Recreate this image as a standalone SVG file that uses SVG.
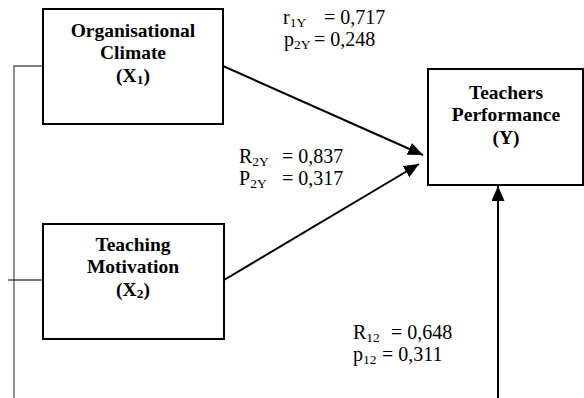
<svg xmlns="http://www.w3.org/2000/svg" width="584" height="398" viewBox="0 0 584 398">
<style>
.box{fill:#fff;stroke:#000;stroke-width:2}
.t{font-family:"Liberation Serif","Times New Roman",serif;font-weight:bold;font-size:19.5px;text-anchor:middle;fill:#000}
.l{font-family:"Liberation Serif","Times New Roman",serif;font-size:20px;fill:#000}
.s{font-size:13.5px}
.c{stroke:#000;stroke-width:2;fill:none}
.g{stroke:#555;stroke-width:1.3;fill:none}
</style>
<defs>
<marker id="ah" markerUnits="userSpaceOnUse" markerWidth="16" markerHeight="14" refX="15" refY="6.5" orient="auto">
<path d="M0,0 L15,6.5 L0,13 z" fill="#000"/>
</marker>
</defs>
<g id="connectors">
<path class="g" d="M43,66 H14 V398"/>
<path class="c" d="M8,280 H43" style="stroke-width:1.2"/>
<line class="c" x1="223" y1="66" x2="423" y2="155" marker-end="url(#ah)"/>
<line class="c" x1="224" y1="280" x2="419" y2="164" marker-end="url(#ah)"/>
<line class="c" x1="498" y1="398" x2="498" y2="186" marker-end="url(#ah)"/>
</g>
<g id="x1">
<rect class="box" x="43" y="9" width="180" height="115"/>
<text class="t" x="133" y="37">Organisational</text>
<text class="t" x="133" y="59">Climate</text>
<text class="t" x="133" y="82">(X<tspan class="s" dy="2">1</tspan><tspan dy="-2">)</tspan></text>
</g>
<g id="x2">
<rect class="box" x="43" y="224" width="181" height="115"/>
<text class="t" x="133" y="251">Teaching</text>
<text class="t" x="133" y="273">Motivation</text>
<text class="t" x="133" y="296">(X<tspan class="s" dy="2">2</tspan><tspan dy="-2">)</tspan></text>
</g>
<g id="y">
<rect class="box" x="428" y="69" width="155" height="116"/>
<text class="t" x="506" y="99">Teachers</text>
<text class="t" x="506" y="121">Performance</text>
<text class="t" x="506" y="144">(Y)</text>
</g>
<g id="labels">
<text class="l" x="283" y="24">r<tspan class="s" dy="3">1Y</tspan><tspan x="324" dy="-3">= 0,717</tspan></text>
<text class="l" x="284" y="46">p<tspan class="s" dy="3">2Y</tspan><tspan x="314" dy="-3">= 0,248</tspan></text>
<text class="l" x="239" y="163">R<tspan class="s" dy="3">2Y</tspan><tspan x="282" dy="-3">= 0,837</tspan></text>
<text class="l" x="239" y="185">P<tspan class="s" dy="3">2Y</tspan><tspan x="282" dy="-3">= 0,317</tspan></text>
<text class="l" x="353" y="339">R<tspan class="s" dy="3">12</tspan><tspan x="391" dy="-3">= 0,648</tspan></text>
<text class="l" x="353" y="361">p<tspan class="s" dy="3">12</tspan><tspan x="382" dy="-3">= 0,311</tspan></text>
</g>
</svg>
